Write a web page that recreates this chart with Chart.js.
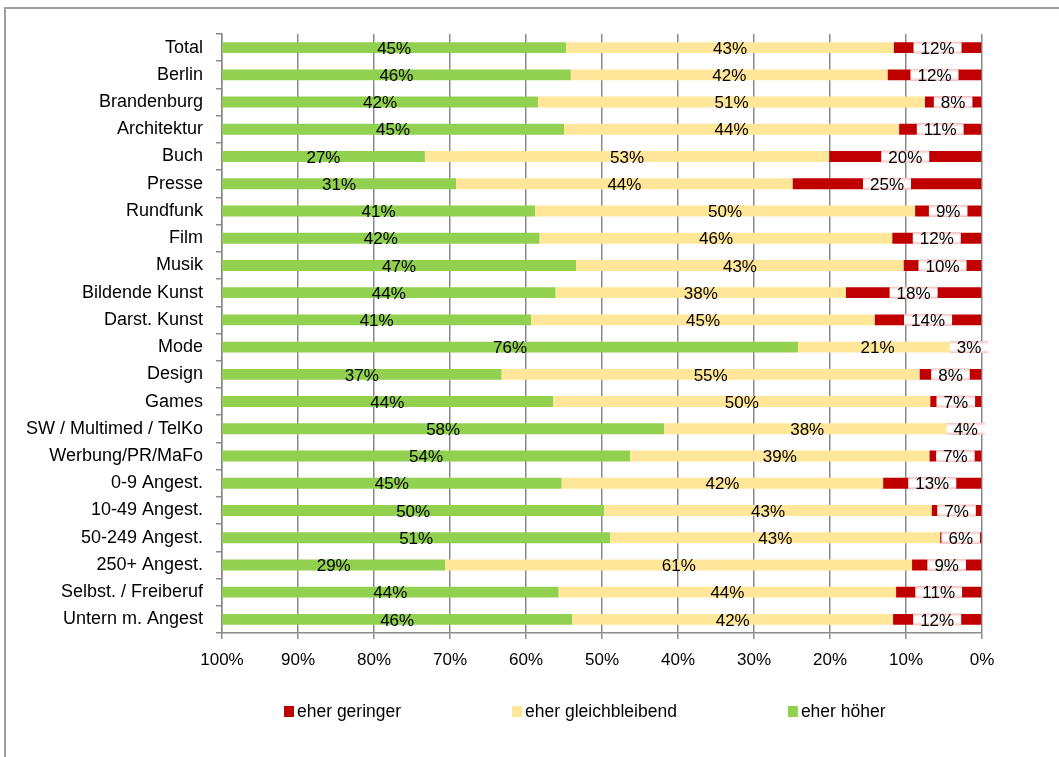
<!DOCTYPE html>
<html>
<head>
<meta charset="utf-8">
<script src="https://cdn.jsdelivr.net/npm/chart.js@4"></script>
<style>
  html, body { margin: 0; padding: 0; background: #fff; }
  #frame { position: absolute; left: 4px; top: 7px; width: 1100px; height: 800px; border: 2px solid #a0a0a0; }
  #wrap { position: absolute; left: 0; top: 0; width: 1059px; height: 757px; }
</style>
</head>
<body>
<div id="frame"></div>
<div id="wrap"><canvas id="chart" width="1059" height="757"></canvas></div>
<script>
var categories = ['Total', 'Berlin', 'Brandenburg', 'Architektur', 'Buch', 'Presse', 'Rundfunk', 'Film',
  'Musik', 'Bildende Kunst', 'Darst. Kunst', 'Mode', 'Design', 'Games', 'SW / Multimed / TelKo',
  'Werbung/PR/MaFo', '0-9 Angest.', '10-49 Angest.', '50-249 Angest.', '250+ Angest.',
  'Selbst. / Freiberuf', 'Untern m. Angest'];

var geringer = [11.6, 12.4, 7.5, 10.9, 20.1, 24.9, 8.8, 11.8, 10.3, 17.9, 14.1, 3.3, 8.2, 6.8, 4.2, 6.9, 13.0, 6.6, 5.5, 9.2, 11.3, 11.7];
var gleichbleibend = [43.1, 41.7, 50.9, 44.1, 53.2, 44.3, 50.0, 46.4, 43.1, 38.2, 45.2, 20.9, 55.0, 49.6, 37.6, 39.4, 42.3, 43.1, 43.4, 61.4, 44.4, 42.2];
var hoeher = [45.3, 45.9, 41.6, 45.0, 26.7, 30.8, 41.2, 41.8, 46.6, 43.9, 40.7, 75.8, 36.8, 43.7, 58.2, 53.7, 44.7, 50.3, 51.1, 29.4, 44.3, 46.1];

var seriesNames = ['eher geringer', 'eher gleichbleibend', 'eher höher'];
var colors = ['#C00000', '#FFE699', '#92D050'];

var FONT = "'Liberation Sans', Arial, sans-serif";

// value labels, red ones get a white box
var labelPlugin = {
  id: 'valueLabels',
  afterDatasetsDraw: function(chart) {
    var ctx = chart.ctx;
    ctx.save();
    ctx.font = '17px ' + FONT;
    ctx.textAlign = 'center';
    ctx.textBaseline = 'middle';
    chart.data.datasets.forEach(function(ds, i) {
      var meta = chart.getDatasetMeta(i);
      meta.data.forEach(function(bar, j) {
        var v = ds.data[j];
        var cx = (bar.x + bar.base) / 2;
        var cy = bar.y;
        var txt = Math.round(v) + '%';
        if (i === 0) {
          var w = ctx.measureText(txt).width + 14;
          var h = bar.height + 1;
          var g = ctx.createLinearGradient(0, cy - h / 2, 0, cy + h / 2);
          g.addColorStop(0, '#f2c2c2');
          g.addColorStop(0.3, '#ffffff');
          g.addColorStop(0.7, '#ffffff');
          g.addColorStop(1, '#f2c2c2');
          ctx.fillStyle = g;
          ctx.fillRect(cx - w / 2, cy - h / 2, w, h);
        }
        ctx.fillStyle = '#000';
        ctx.fillText(txt, cx, cy + 1.5);
      });
    });
    ctx.restore();
  }
};

// legend drawn by hand: Excel style spacing
var legendPlugin = {
  id: 'bottomLegend',
  afterDraw: function(chart) {
    var ctx = chart.ctx;
    ctx.save();
    ctx.font = '17.5px ' + FONT;
    ctx.textBaseline = 'middle';
    var x = 284, y = 711;
    chart.data.datasets.forEach(function(ds) {
      ctx.fillStyle = ds.backgroundColor;
      ctx.fillRect(x, y - 5, 10, 11);
      ctx.fillStyle = '#000';
      ctx.fillText(ds.label, x + 13, y + 1);
      x += 13 + ctx.measureText(ds.label).width + 111;
    });
    ctx.restore();
  }
};

var ctx = document.getElementById('chart').getContext('2d');
var chart = new Chart(ctx, {
  type: 'bar',
  data: {
    labels: categories,
    datasets: [
      { label: seriesNames[0], data: geringer, backgroundColor: colors[0] },
      { label: seriesNames[1], data: gleichbleibend, backgroundColor: colors[1] },
      { label: seriesNames[2], data: hoeher, backgroundColor: colors[2] }
    ]
  },
  options: {
    indexAxis: 'y',
    responsive: false,
    animation: false,
    datasets: { bar: { barPercentage: 0.4, categoryPercentage: 1.0 } },
    layout: { padding: { left: 0, right: 77, top: 34, bottom: 74 } },
    plugins: {
      legend: { display: false },
      tooltip: { enabled: false }
    },
    scales: {
      x: {
        stacked: true,
        reverse: true,
        min: 0,
        max: 100,
        ticks: {
          stepSize: 10,
          color: '#000',
          padding: 11,
          font: { family: FONT, size: 17 },
          callback: function(v) { return v + '%'; }
        },
        grid: { color: '#8a8a8a', lineWidth: 1.5, tickLength: 6 },
        border: { color: '#8a8a8a', width: 1.5 },
        afterFit: function(scale) { scale.height = 50; }
      },
      y: {
        stacked: true,
        ticks: {
          color: '#000',
          padding: 13,
          autoSkip: false,
          font: { family: FONT, size: 18 }
        },
        grid: { drawOnChartArea: false, color: '#8a8a8a', lineWidth: 1.5, tickLength: 6 },
        border: { color: '#8a8a8a', width: 1.5 },
        afterFit: function(scale) { scale.width = 222; }
      }
    }
  },
  plugins: [labelPlugin, legendPlugin]
});
</script>
</body>
</html>
